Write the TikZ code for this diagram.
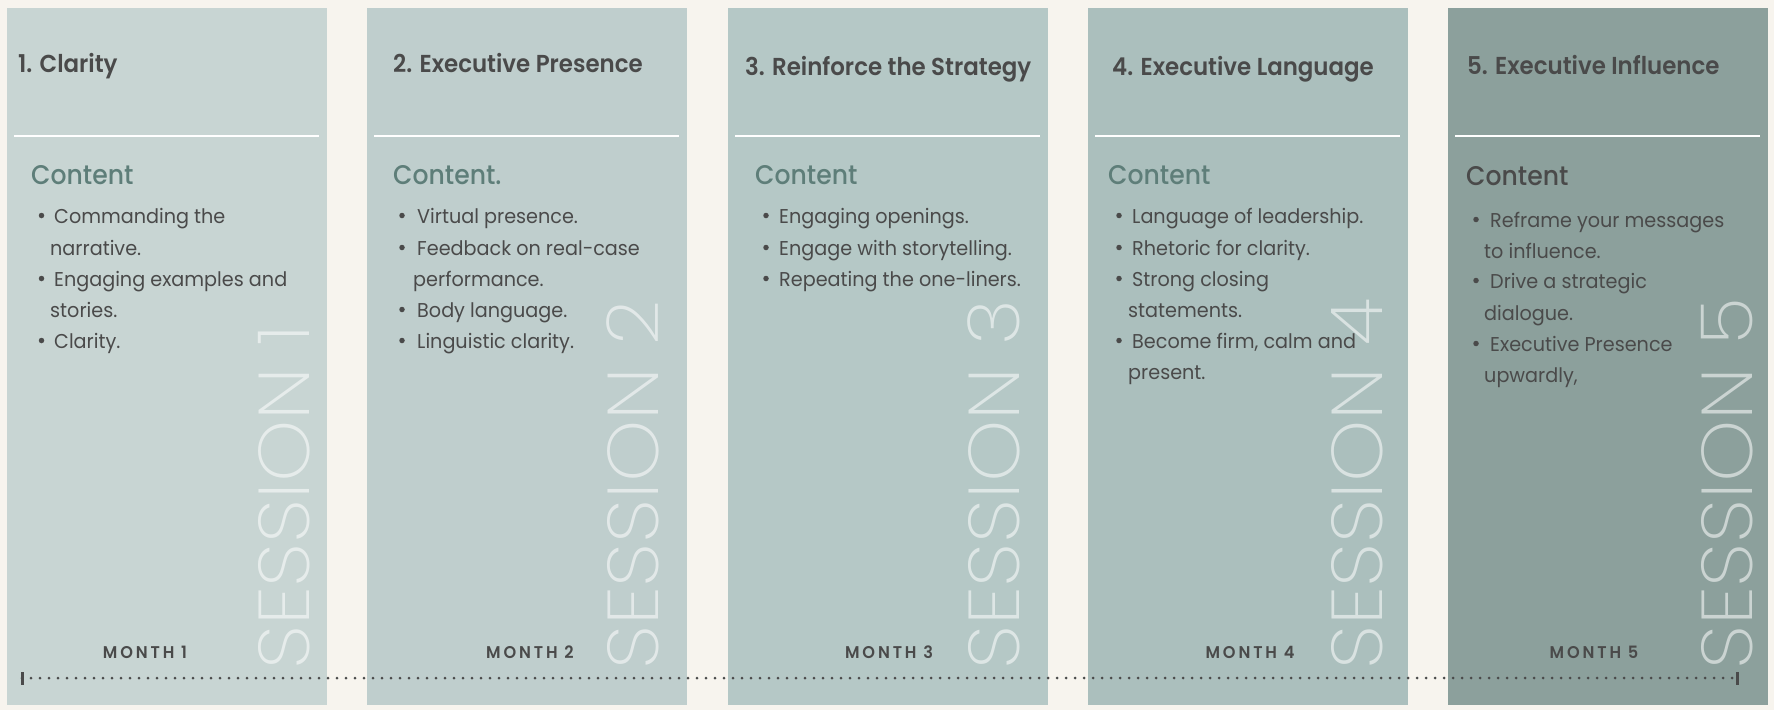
\documentclass[tikz,border=0pt]{standalone}
\usepackage{fontspec}
\setmainfont{Poppins}
\IfFontExistsTF{Poppins SemiBold}{\newfontfamily\ttlf{Poppins SemiBold}[FakeStretch=0.935]}{\newfontfamily\ttlf{Poppins Medium}[FakeStretch=0.95]}
\IfFontExistsTF{Poppins SemiBold}{\newfontfamily\semif{Poppins SemiBold}[FakeStretch=0.95]}{\newfontfamily\semif{Poppins Medium}[FakeStretch=0.95]}
\IfFontExistsTF{Poppins ExtraLight}{\newfontfamily\thinf{Poppins ExtraLight}[FakeStretch=1.1]}{\newfontfamily\thinf{Poppins}[FakeStretch=1.1]}
\newfontfamily\bodyf{Poppins}[FakeStretch=0.96]
\newfontfamily\cntf{Poppins Medium}[FakeStretch=0.93]
\definecolor{bgc}{HTML}{F7F4EE}
\definecolor{pa}{HTML}{C8D5D3}
\definecolor{pb}{HTML}{BFCECD}
\definecolor{pc}{HTML}{B5C8C6}
\definecolor{pd}{HTML}{ABBFBD}
\definecolor{pe}{HTML}{8CA09C}
\definecolor{ink}{HTML}{4A4A4A}
\definecolor{tealc}{HTML}{5E7E79}
\tikzset{
  panel/.style={fill=#1, draw=none},
  ttl/.style={anchor=base west, inner sep=0pt, text=ink, font=\ttlf\fontsize{24.5}{30}\selectfont},
  cnt/.style={anchor=base west, inner sep=0pt, text=tealc, font=\cntf\fontsize{27}{34}\selectfont},
  itm/.style={anchor=base west, inner sep=0pt, text=ink, font=\bodyf\fontsize{20}{31}\selectfont},
  bdot/.style={circle, fill=ink, inner sep=0pt, minimum size=5.5pt},
  sess/.style={anchor=base west, rotate=90, inner sep=0pt, text=white, text opacity=0.55, font=\thinf\fontsize{72}{80}\selectfont},
  mon/.style={anchor=base, inner sep=0pt, text=ink, font=\semif\fontsize{17}{20}\selectfont\addfontfeatures{LetterSpace=17}},
  sepline/.style={draw=white, line width=2pt},
  dotline/.style={draw=ink, line width=3pt, line cap=round, dash pattern=on 0pt off 9pt},
  tick/.style={draw=ink, line width=3pt},
}
\newcommand\itl[4]{\node[itm] (#1) at (#2,#3) {#4};}
\newcommand\bul[3]{\node[bdot] (#1) at (#2,#3) {};}
\begin{document}
\begin{tikzpicture}[x=1pt,y=-1pt]
\fill[bgc] (0,0) rectangle (1774,710);
\useasboundingbox (0,0) rectangle (1774,710);
% panels
\fill[panel=pa] (7,8) rectangle (327,705);
\fill[panel=pb] (367,8) rectangle (687,705);
\fill[panel=pc] (728,8) rectangle (1048,705);
\fill[panel=pd] (1088,8) rectangle (1408,705);
\fill[panel=pe] (1448,8) rectangle (1768,705);
% separators
\draw[sepline] (14,136) -- (319,136);
\draw[sepline] (374,136) -- (679,136);
\draw[sepline] (735,136) -- (1040,136);
\draw[sepline] (1095,136) -- (1400,136);
\draw[sepline] (1455,136) -- (1760,136);
% session labels
\node[sess] (s1) at (309,670) {SESSION 1};
\node[sess] (s2) at (658,670) {SESSION 2};
\node[sess] (s3) at (1019,670) {SESSION 3};
\node[sess] (s4) at (1382,670) {SESSION 4};
\node[sess] (s5) at (1752,670) {SESSION 5};
% titles
\node[ttl] (t1) at (18,72) {1. Clarity};
\node[ttl] (t2) at (393,72) {2. Executive Presence};
\node[ttl] (t3) at (745,75) {3. Reinforce the Strategy};
\node[ttl] (t4) at (1112,75) {4. Executive Language};
\node[ttl] (t5) at (1467,74) {5. Executive Influence};
% content headings
\node[cnt] (c1) at (31,184) {Content};
\node[cnt] (c2) at (393,184) {Content.};
\node[cnt] (c3) at (755,184) {Content};
\node[cnt] (c4) at (1108,184) {Content};
\node[cnt,text=ink] (c5) at (1466,185) {Content};
% panel 1 items
\bul{b11}{41.5}{215.5}\bul{b12}{41.5}{278.5}\bul{b13}{41.5}{340.5}
\itl{i11}{54}{223}{Commanding the}
\itl{i12}{50}{255}{narrative.}
\itl{i13}{54}{286}{Engaging examples and}
\itl{i14}{50}{317}{stories.}
\itl{i15}{54}{348}{Clarity.}
% panel 2 items
\bul{b21}{402}{215.5}\bul{b22}{402}{247.5}\bul{b23}{402}{309.5}\bul{b24}{402}{340.5}
\itl{i21}{417}{223}{Virtual presence.}
\itl{i22}{417}{255}{Feedback on real-case}
\itl{i23}{413}{286}{performance.}
\itl{i24}{417}{317}{Body language.}
\itl{i25}{417}{348}{Linguistic clarity.}
% panel 3 items
\bul{b31}{766}{215.5}\bul{b32}{766}{247.5}\bul{b33}{766}{278.5}
\itl{i31}{779}{223}{Engaging openings.}
\itl{i32}{779}{255}{Engage with storytelling.}
\itl{i33}{779}{286}{Repeating the one-liners.}
% panel 4 items
\bul{b41}{1119}{215.5}\bul{b42}{1119}{247.5}\bul{b43}{1119}{278.5}\bul{b44}{1119}{340.5}
\itl{i41}{1132}{223}{Language of leadership.}
\itl{i42}{1132}{255}{Rhetoric for clarity.}
\itl{i43}{1132}{286}{Strong closing}
\itl{i44}{1128}{317}{statements.}
\itl{i45}{1132}{348}{Become firm, calm and}
\itl{i46}{1128}{379}{present.}
% panel 5 items
\bul{b51}{1476}{219.5}\bul{b52}{1476}{280.5}\bul{b53}{1476}{343.5}
\itl{i51}{1490}{227}{Reframe your messages}
\itl{i52}{1484}{258}{to influence.}
\itl{i53}{1490}{288}{Drive a strategic}
\itl{i54}{1484}{320}{dialogue.}
\itl{i55}{1490}{351}{Executive Presence}
\itl{i56}{1484}{382}{upwardly,}
% months
\node[mon] (m1) at (145,658) {MONTH 1};
\node[mon] (m2) at (530,658) {MONTH 2};
\node[mon] (m3) at (889,658) {MONTH 3};
\node[mon] (m4) at (1250,658) {MONTH 4};
\node[mon] (m5) at (1594,658) {MONTH 5};
% timeline
\coordinate (tla) at (22,678);
\coordinate (tlb) at (1737,678);
\draw[dotline] (tla) -- (tlb);
\draw[tick] ([yshift=-6.5pt]tla) -- ([yshift=6.5pt]tla);
\draw[tick] ([yshift=-6.5pt]tlb) -- ([yshift=6.5pt]tlb);
\end{tikzpicture}
\end{document}
